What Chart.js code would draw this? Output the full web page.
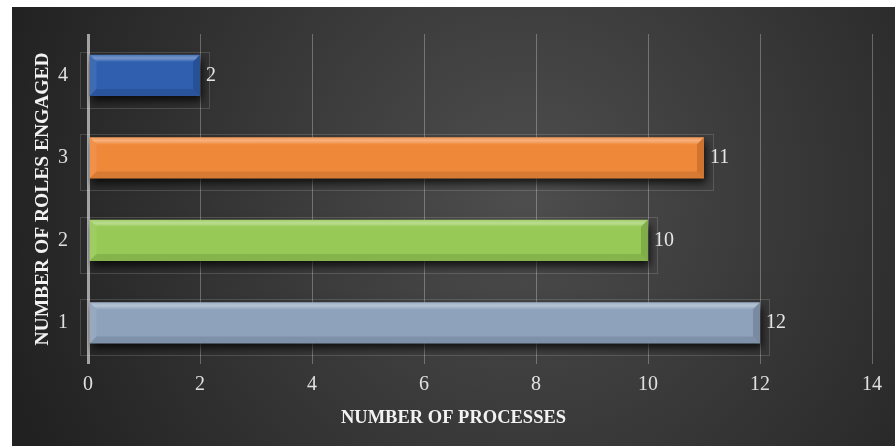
<!DOCTYPE html>
<html>
<head>
<meta charset="utf-8">
<script src="https://cdn.jsdelivr.net/npm/chart.js@4"></script>
<style>
  html, body { margin: 0; padding: 0; background: #ffffff; }
  #wrap { position: absolute; left: 12px; top: 7px; width: 883px; height: 439px; }
</style>
</head>
<body>
<div id="wrap"><canvas id="myChart"></canvas></div>
<script>
// data
const roles = ['1', '2', '3', '4'];
const processes = [12, 10, 11, 2];
const barColors = ['#8ea2bc', '#96c955', '#f0883a', '#2f5fae'];
const xTicks = [0, 2, 4, 6, 8, 10, 12, 14];
const xTitle = 'NUMBER OF PROCESSES';
const yTitle = 'NUMBER OF ROLES ENGAGED';

const serif = "'Liberation Serif', 'DejaVu Serif', serif";

// dark radial background
const bgPlugin = {
    id: 'bg',
    beforeDraw(chart) {
        const c = chart.ctx;
        const w = chart.width, h = chart.height;
        const g = c.createRadialGradient(w * 0.58, h * 0.42, 10, w * 0.58, h * 0.42, w * 0.62);
        g.addColorStop(0, '#4d4d4d');
        g.addColorStop(1, '#212121');
        c.save();
        c.fillStyle = g;
        c.fillRect(0, 0, w, h);
        c.restore();
    },
    // x title is centred on the whole chart, not the plot area
    afterDraw(chart) {
        const c = chart.ctx;
        c.save();
        c.fillStyle = '#f2f2f2';
        c.font = 'bold 18.5px ' + serif;
        c.textAlign = 'center';
        c.textBaseline = 'middle';
        c.fillText(xTitle, chart.width / 2, 411);
        c.restore();
    }
};

// faint frames + shadow under bars
const shadowPlugin = {
    id: 'barShadow',
    beforeDatasetDraw(chart) {
        const c = chart.ctx;
        const meta = chart.getDatasetMeta(0);
        c.save();
        c.strokeStyle = 'rgba(255,255,255,0.15)';
        c.lineWidth = 1;
        meta.data.forEach(bar => {
            const top = bar.y - bar.height / 2;
            const bottom = bar.y + bar.height / 2;
            c.strokeRect(Math.round(bar.base - 10) + 0.5, Math.round(top - 3) + 0.5,
                Math.round(bar.x - bar.base + 18), Math.round(bottom - top + 15));
        });
        c.restore();
        c.save();
        c.shadowColor = 'rgba(0,0,0,0.75)';
        c.shadowBlur = 8;
        c.shadowOffsetY = 5;
        c.shadowOffsetX = 2;
    },
    afterDatasetDraw(chart) {
        chart.ctx.restore();
    }
};

// bevel look + value labels
const bevelPlugin = {
    id: 'bevel',
    afterDatasetsDraw(chart) {
        const c = chart.ctx;
        const meta = chart.getDatasetMeta(0);
        const b = 7;
        c.save();
        meta.data.forEach((bar, i) => {
            const l = bar.base, r = bar.x;
            const t = bar.y - bar.height / 2, btm = bar.y + bar.height / 2;
            const poly = (pts, fill) => {
                c.beginPath();
                c.moveTo(pts[0][0], pts[0][1]);
                pts.slice(1).forEach(p => c.lineTo(p[0], p[1]));
                c.closePath();
                c.fillStyle = fill;
                c.fill();
            };
            const g = c.createLinearGradient(0, t, 0, t + b);
            g.addColorStop(0, 'rgba(255,255,255,0.12)');
            g.addColorStop(0.5, 'rgba(255,255,255,0.35)');
            g.addColorStop(1, 'rgba(255,255,255,0.05)');
            poly([[l, t], [r, t], [r - b, t + b], [l + b, t + b]], g);
            poly([[l, btm], [r, btm], [r - b, btm - b], [l + b, btm - b]], 'rgba(0,0,0,0.10)');
            poly([[r, t], [r, btm], [r - b, btm - b], [r - b, t + b]], 'rgba(0,0,0,0.14)');
            poly([[l, t], [l, btm], [l + b, btm - b], [l + b, t + b]], 'rgba(255,255,255,0.08)');

            c.fillStyle = '#e6e6e6';
            c.font = '20px ' + serif;
            c.textAlign = 'left';
            c.textBaseline = 'middle';
            c.fillText(processes[i], r + 6, bar.y);
        });
        c.restore();
    }
};

const ctx = document.getElementById('myChart').getContext('2d');
const myChart = new Chart(ctx, {
    type: 'bar',
    data: {
        labels: roles,
        datasets: [{
            data: processes,
            backgroundColor: barColors,
            borderWidth: 0,
            barPercentage: 0.5,
            categoryPercentage: 1
        }]
    },
    options: {
        indexAxis: 'y',
        responsive: true,
        maintainAspectRatio: false,
        animation: false,
        layout: { padding: { top: 27, right: 23, left: 0, bottom: 0 } },
        plugins: {
            legend: { display: false },
            tooltip: { enabled: false }
        },
        scales: {
            x: {
                min: 0,
                max: 14,
                afterBuildTicks: (scale) => { scale.ticks = xTicks.map(v => ({ value: v })); },
                afterFit: (scale) => { scale.height = 82; },
                grid: {
                    drawTicks: false,
                    color: (c) => c.tick && c.tick.value === 0 ? '#a3a3a3' : 'rgba(255,255,255,0.28)',
                    lineWidth: (c) => c.tick && c.tick.value === 0 ? 3 : 1
                },
                border: { display: false },
                ticks: {
                    padding: 9,
                    color: '#e0e0e0',
                    font: { family: serif, size: 20 }
                }
            },
            y: {
                reverse: true,
                afterFit: (scale) => { scale.width = 76; },
                grid: { display: false },
                border: { display: false },
                ticks: {
                    padding: 12,
                    color: '#e0e0e0',
                    font: { family: serif, size: 20 }
                },
                title: {
                    display: true,
                    text: yTitle,
                    color: '#f2f2f2',
                    font: { family: serif, size: 19.5, weight: 'bold' },
                    padding: { top: 19, bottom: 0 }
                }
            }
        }
    },
    plugins: [bgPlugin, shadowPlugin, bevelPlugin]
});
</script>
</body>
</html>
